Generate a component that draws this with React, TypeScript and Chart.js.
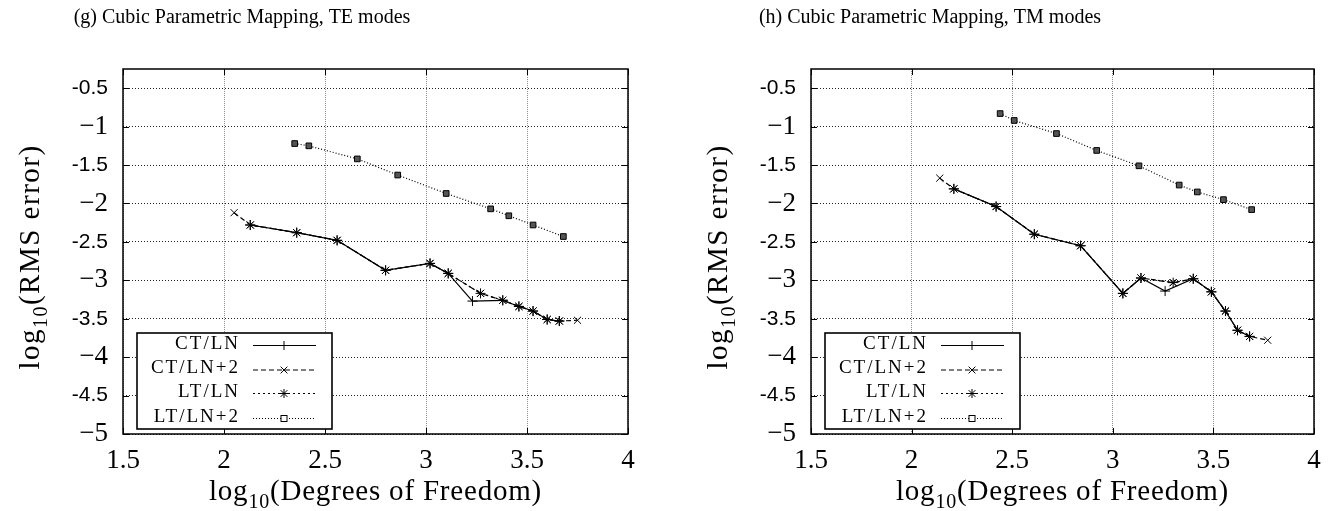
import { useEffect, useRef } from "react";
import { Chart, registerables } from "chart.js";

Chart.register(...registerables);

const SERIF = '"Liberation Serif", "Times New Roman", serif';
const SANS = '"Liberation Sans", Arial, sans-serif';

// Axis ticks shared by both panels
const xTicks = [1.5, 2, 2.5, 3, 3.5, 4];
const xTickLabels = ["1.5", "2", "2.5", "3", "3.5", "4"];
const yTicks = [-5, -4.5, -4, -3.5, -3, -2.5, -2, -1.5, -1, -0.5];
const yTickLabels = ["−5", "-4.5", "−4", "-3.5", "−3", "-2.5", "−2", "-1.5", "−1", "-0.5"];
const xMin = 1.5;
const xMax = 4;
const yMin = -5;
const yMax = -0.25;

const seriesNames = ["CT/LN", "CT/LN+2", "LT/LN", "LT/LN+2"];
const panelTitles = [
  "(g) Cubic Parametric Mapping, TE modes",
  "(h) Cubic Parametric Mapping, TM modes",
];

// TE modes
const teCtLnX = [2.13, 2.36, 2.56, 2.8, 3.02, 3.11, 3.23, 3.38, 3.46, 3.53, 3.6, 3.66];
const teCtLnY = [-2.28, -2.38, -2.48, -2.87, -2.78, -2.91, -3.27, -3.26, -3.34, -3.4, -3.51, -3.53];
const teCtLn2X = [2.05, 2.13, 2.36, 2.56, 2.8, 3.02, 3.11, 3.27, 3.38, 3.46, 3.53, 3.6, 3.66, 3.75];
const teCtLn2Y = [-2.12, -2.28, -2.38, -2.48, -2.87, -2.78, -2.91, -3.17, -3.26, -3.34, -3.4, -3.51, -3.53, -3.52];
const teLtLnX = [2.13, 2.36, 2.56, 2.8, 3.02, 3.11, 3.27, 3.38, 3.46, 3.53, 3.6, 3.66];
const teLtLnY = [-2.28, -2.38, -2.48, -2.87, -2.78, -2.91, -3.17, -3.26, -3.34, -3.4, -3.51, -3.53];
const teLtLn2X = [2.35, 2.42, 2.66, 2.86, 3.1, 3.32, 3.41, 3.53, 3.68];
const teLtLn2Y = [-1.22, -1.25, -1.42, -1.63, -1.87, -2.07, -2.16, -2.28, -2.43];

// TM modes
const tmCtLnX = [2.21, 2.42, 2.61, 2.84, 3.05, 3.14, 3.26, 3.4, 3.49, 3.56, 3.62, 3.68];
const tmCtLnY = [-1.81, -2.04, -2.4, -2.55, -3.17, -2.97, -3.14, -2.98, -3.15, -3.4, -3.65, -3.73];
const tmCtLn2X = [2.14, 2.21, 2.42, 2.61, 2.84, 3.05, 3.14, 3.3, 3.4, 3.49, 3.56, 3.62, 3.68, 3.77];
const tmCtLn2Y = [-1.67, -1.81, -2.04, -2.4, -2.55, -3.17, -2.97, -3.03, -2.98, -3.15, -3.4, -3.65, -3.73, -3.78];
const tmLtLnX = [2.21, 2.42, 2.61, 2.84, 3.05, 3.14, 3.3, 3.4, 3.49, 3.56, 3.62, 3.68];
const tmLtLnY = [-1.81, -2.04, -2.4, -2.55, -3.17, -2.97, -3.03, -2.98, -3.15, -3.4, -3.65, -3.73];
const tmLtLn2X = [2.44, 2.51, 2.72, 2.92, 3.13, 3.33, 3.42, 3.55, 3.69];
const tmLtLn2Y = [-0.83, -0.92, -1.09, -1.31, -1.51, -1.76, -1.85, -1.95, -2.08];

const seriesDash: number[][] = [[], [5, 3], [2, 3], [1, 2]];
const seriesPoint = ["cross", "crossRot", "star", "rect"];

type PanelDef = {
  title: string;
  xs: number[][];
  ys: number[][];
  left: number;
  width: number;
  areaRight: number;
};

const panels: PanelDef[] = [
  {
    title: panelTitles[0],
    xs: [teCtLnX, teCtLn2X, teLtLnX, teLtLn2X],
    ys: [teCtLnY, teCtLn2Y, teLtLnY, teLtLn2Y],
    left: 0,
    width: 672,
    areaRight: 628,
  },
  {
    title: panelTitles[1],
    xs: [tmCtLnX, tmCtLn2X, tmLtLnX, tmLtLn2X],
    ys: [tmCtLnY, tmCtLn2Y, tmLtLnY, tmLtLn2Y],
    left: 688,
    width: 655,
    areaRight: 626,
  },
];

const HEIGHT = 511;
const AREA_LEFT = 123;
const AREA_TOP = 69;
const AREA_BOTTOM = 434;

function drawLogLabel(
  ctx: CanvasRenderingContext2D,
  cx: number,
  baseline: number,
  vertical: boolean,
  rest: string,
  size: number,
  spacing: number
) {
  ctx.save();
  ctx.translate(cx, baseline);
  if (vertical) ctx.rotate(-Math.PI / 2);
  const c = ctx as any;
  c.letterSpacing = `${spacing}px`;
  const big = `${size}px ${SERIF}`;
  const small = `${Math.round(size * 0.7)}px ${SERIF}`;
  ctx.font = big;
  const w1 = ctx.measureText("log").width;
  const w3 = ctx.measureText(rest).width;
  ctx.font = small;
  const w2 = ctx.measureText("10").width;
  let x = -(w1 + w2 + w3) / 2;
  const base = vertical ? size * 0.3 : 0;
  ctx.fillStyle = "#000";
  ctx.textAlign = "left";
  ctx.textBaseline = "alphabetic";
  ctx.font = big;
  ctx.fillText("log", x, base);
  x += w1;
  ctx.font = small;
  ctx.fillText("10", x, base + size * 0.28);
  x += w2;
  ctx.font = big;
  ctx.fillText(rest, x, base);
  c.letterSpacing = "0px";
  ctx.restore();
}

function drawMarker(ctx: CanvasRenderingContext2D, style: string, x: number, y: number) {
  ctx.beginPath();
  const r = 4.5;
  const d = r * 0.75;
  if (style === "cross" || style === "star") {
    ctx.moveTo(x - r, y);
    ctx.lineTo(x + r, y);
    ctx.moveTo(x, y - r);
    ctx.lineTo(x, y + r);
  }
  if (style === "crossRot" || style === "star") {
    ctx.moveTo(x - d, y - d);
    ctx.lineTo(x + d, y + d);
    ctx.moveTo(x - d, y + d);
    ctx.lineTo(x + d, y - d);
  }
  ctx.stroke();
  if (style === "rect") {
    ctx.fillStyle = "#fff";
    ctx.fillRect(x - 3, y - 3, 6, 6);
    ctx.strokeRect(x - 3, y - 3, 6, 6);
  }
}

function makeFramePlugin(title: string) {
  return {
    id: "frame",
    beforeDraw(chart: any) {
      const ctx = chart.ctx as CanvasRenderingContext2D;
      ctx.save();
      ctx.fillStyle = "#fff";
      ctx.fillRect(0, 0, chart.width, chart.height);
      ctx.restore();
    },
    afterDraw(chart: any) {
      const ctx = chart.ctx as CanvasRenderingContext2D;
      const a = chart.chartArea;
      const xs = chart.scales.x;
      const ys = chart.scales.y;
      ctx.save();

      // inner tick marks on all four sides
      ctx.strokeStyle = "#000";
      ctx.lineWidth = 1;
      ctx.setLineDash([]);
      ctx.beginPath();
      const tl = 6;
      xTicks.forEach((v) => {
        const px = Math.round(xs.getPixelForValue(v)) + 0.5;
        ctx.moveTo(px, a.bottom);
        ctx.lineTo(px, a.bottom - tl);
        ctx.moveTo(px, a.top);
        ctx.lineTo(px, a.top + tl);
      });
      yTicks.forEach((v) => {
        const py = Math.round(ys.getPixelForValue(v)) + 0.5;
        ctx.moveTo(a.left, py);
        ctx.lineTo(a.left + tl, py);
        ctx.moveTo(a.right, py);
        ctx.lineTo(a.right - tl, py);
      });
      ctx.stroke();

      // plot border
      ctx.lineWidth = 1.5;
      ctx.strokeRect(a.left, a.top, a.right - a.left, a.bottom - a.top);

      // key box
      const bx = a.left + 14;
      const by = 333;
      const bw = 195;
      const bh = 96;
      ctx.fillStyle = "#fff";
      ctx.fillRect(bx, by, bw, bh);
      ctx.lineWidth = 1.6;
      ctx.strokeRect(bx, by, bw, bh);
      const rows = [11, 35.5, 59, 84];
      seriesNames.forEach((name, i) => {
        const ry = by + rows[i];
        ctx.fillStyle = "#000";
        ctx.font = `19px ${SERIF}`;
        (ctx as any).letterSpacing = "2px";
        ctx.textAlign = "right";
        ctx.textBaseline = "middle";
        ctx.fillText(name, bx + 103, ry);
        (ctx as any).letterSpacing = "0px";
        ctx.strokeStyle = "#000";
        ctx.lineWidth = 1;
        ctx.setLineDash(seriesDash[i]);
        ctx.beginPath();
        ctx.moveTo(bx + 116, ry + 1.5);
        ctx.lineTo(bx + 179, ry + 1.5);
        ctx.stroke();
        ctx.setLineDash([]);
        drawMarker(ctx, seriesPoint[i], bx + 147, ry + 1.5);
      });

      // panel caption
      ctx.fillStyle = "#000";
      ctx.font = `20px ${SERIF}`;
      ctx.textAlign = "center";
      ctx.textBaseline = "alphabetic";
      ctx.fillText(title, 242, 23);

      // axis titles
      drawLogLabel(ctx, 30, 257, true, "(RMS error)", 29, 1.5);
      drawLogLabel(ctx, (a.left + a.right) / 2, 500, false, "(Degrees of Freedom)", 29, 0.8);

      ctx.restore();
    },
  };
}

function Panel({ def }: { def: PanelDef }) {
  const ref = useRef<HTMLCanvasElement | null>(null);
  useEffect(() => {
    const canvas = ref.current;
    if (!canvas) return;
    const datasets = seriesNames.map((name, i) => ({
      label: name,
      data: def.xs[i].map((x, j) => ({ x, y: def.ys[i][j] })),
      showLine: true,
      borderColor: "#000",
      borderWidth: 1.2,
      borderDash: seriesDash[i],
      backgroundColor: i === 3 ? "#555" : "#000",
      pointStyle: seriesPoint[i],
      pointRadius: i === 3 ? 4 : 5,
      pointBorderColor: "#000",
      pointBorderWidth: 1,
      pointBackgroundColor: i === 3 ? "#555" : "#000",
      tension: 0,
      order: 3 - i,
    }));
    const chart = new Chart(canvas, {
      type: "scatter",
      data: { datasets },
      options: {
        animation: false,
        responsive: false,
        devicePixelRatio: 1,
        layout: {
          padding: {
            left: 0,
            right: def.width - def.areaRight,
            top: AREA_TOP,
            bottom: 0,
          },
        },
        plugins: {
          legend: { display: false },
          tooltip: { enabled: false },
          title: { display: false },
        },
        scales: {
          x: {
            type: "linear",
            min: xMin,
            max: xMax,
            afterFit: (s: any) => {
              s.height = HEIGHT - AREA_BOTTOM;
            },
            afterBuildTicks: (s: any) => {
              s.ticks = xTicks.map((v) => ({ value: v }));
            },
            ticks: {
              autoSkip: false,
              maxRotation: 0,
              padding: 11,
              color: "#000",
              font: { family: SERIF, size: 27 },
              callback: (_v: any, i: number) => xTickLabels[i],
            },
            grid: { color: "rgba(0,0,0,0.45)", lineWidth: 1, drawTicks: false },
            border: { display: false, dash: [1, 1] },
          },
          y: {
            type: "linear",
            min: yMin,
            max: yMax,
            afterFit: (s: any) => {
              s.width = AREA_LEFT;
            },
            afterBuildTicks: (s: any) => {
              s.ticks = yTicks.map((v) => ({ value: v }));
            },
            ticks: {
              autoSkip: false,
              padding: 15,
              color: "#000",
              font: (c: any) =>
                c.tick && Number.isInteger(c.tick.value)
                  ? { family: SERIF, size: 27 }
                  : { family: SANS, size: 21 },
              callback: (_v: any, i: number) => yTickLabels[i],
            },
            grid: { color: "#222", lineWidth: 1, drawTicks: false },
            border: { display: false, dash: [1, 2] },
          },
        },
      },
      plugins: [makeFramePlugin(def.title)],
    } as any);
    return () => chart.destroy();
  }, [def]);
  return (
    <canvas
      ref={ref}
      width={def.width}
      height={HEIGHT}
      style={{
        position: "absolute",
        left: def.left,
        top: 0,
        width: def.width,
        height: HEIGHT,
      }}
    />
  );
}

export default function App() {
  return (
    <div
      style={{
        position: "absolute",
        left: 0,
        top: 0,
        width: 1343,
        height: HEIGHT,
        background: "#fff",
        overflow: "hidden",
      }}
    >
      {panels.map((p) => (
        <Panel key={p.title} def={p} />
      ))}
    </div>
  );
}
